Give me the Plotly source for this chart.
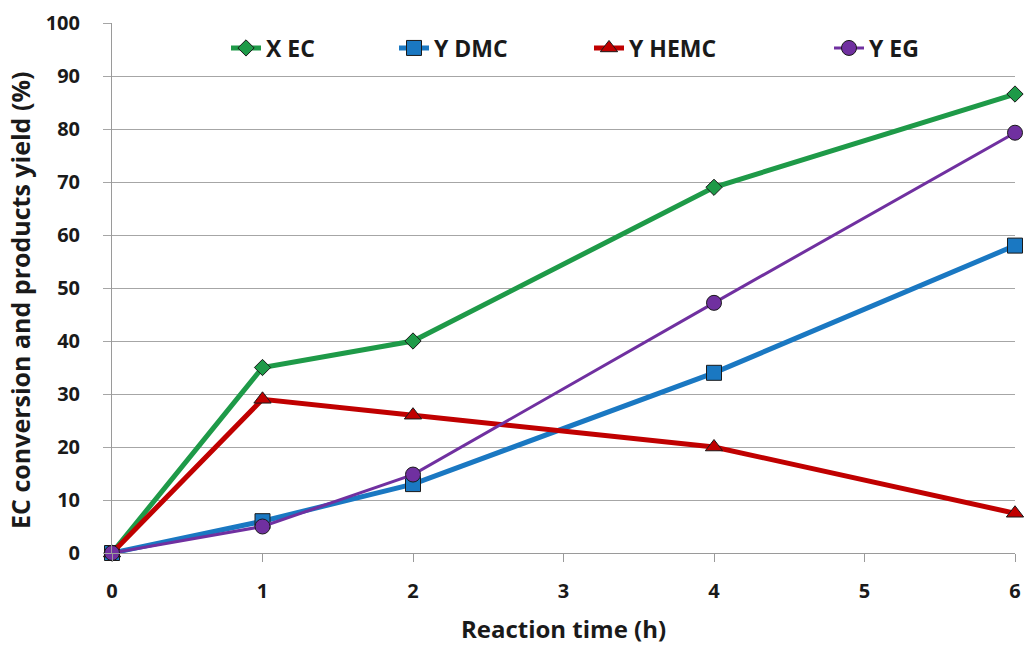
import plotly.graph_objects as go

time_h = [0, 1, 2, 4, 6]
x_ec = [0, 35, 40, 69, 86.6]
y_dmc = [0, 6, 13, 34, 58]
y_hemc = [0, 29, 26, 20, 7.5]
y_eg = [0, 5, 14.8, 47.2, 79.3]

names = ["X EC", "Y DMC", "Y HEMC", "Y EG"]
series = [x_ec, y_dmc, y_hemc, y_eg]
colors = ["#1e9a48", "#1a78c2", "#c00000", "#7030a0"]
widths = [5, 5, 5, 3]
symbols = ["diamond", "square", "triangle-up", "circle"]
sizes = [12.5, 15, 15, 15]
legend_x_px = [226, 394, 589, 829]

x_title = "Reaction time (h)"
y_title = "EC conversion and products yield (%)"

W, H = 1024, 645
L, R, T, B = 112, 9, 23, 92
pw = W - L - R
ph = H - T - B

FONT = "Open Sans"
TXT = "#1a1a1a"

fig = go.Figure()
for i, (n, s) in enumerate(zip(names, series)):
    fig.add_trace(go.Scatter(
        x=time_h, y=s, name=n, mode="lines+markers",
        line=dict(color=colors[i], width=widths[i]),
        marker=dict(symbol=symbols[i], size=sizes[i], color=colors[i],
                    line=dict(color="#1a1a1a", width=1)),
        cliponaxis=False,
        legend="legend" if i == 0 else f"legend{i+1}",
    ))

leg_common = dict(orientation="h", yanchor="middle", y=(H - B - 48) / ph,
                  xanchor="left", bgcolor="rgba(0,0,0,0)",
                  font=dict(family=FONT, size=23, color=TXT, weight="bold"),
                  itemwidth=30)
legends = {}
for i, px in enumerate(legend_x_px):
    key = "legend" if i == 0 else f"legend{i+1}"
    legends[key] = dict(leg_common, x=(px - L) / pw)

fig.add_annotation(
    text=y_title, textangle=-90, showarrow=False,
    xref="paper", yref="paper", x=(20 - L) / pw, y=(H - B - 301) / ph,
    xanchor="center", yanchor="middle",
    font=dict(family=FONT, size=25, color=TXT, weight="bold"),
)

fig.update_layout(
    width=W, height=H,
    margin=dict(l=L, r=R, t=T, b=B, autoexpand=False),
    plot_bgcolor="white", paper_bgcolor="white",
    showlegend=True,
    **legends,
    xaxis=dict(
        range=[0, 6], tickmode="array", tickvals=[0, 1, 2, 3, 4, 5, 6],
        showgrid=False, zeroline=False, automargin=False,
        showline=True, linecolor="#9a9a9a", linewidth=1,
        ticks="outside", ticklen=8, tickcolor="#9a9a9a",
        ticklabelstandoff=12,
        tickfont=dict(family=FONT, size=20, color=TXT, weight="bold"),
        title=dict(text=x_title, standoff=19,
                   font=dict(family=FONT, size=24, color=TXT, weight="bold")),
    ),
    yaxis=dict(
        range=[0, 100], tickmode="array", tickvals=list(range(0, 101, 10)),
        showgrid=True, gridcolor="#a6a6a6", gridwidth=1, zeroline=False,
        automargin=False,
        showline=True, linecolor="#9a9a9a", linewidth=1,
        ticks="outside", ticklen=8, tickcolor="#a6a6a6",
        ticklabelstandoff=19,
        tickfont=dict(family=FONT, size=20, color=TXT, weight="bold"),
    ),
)

fig.write_html(
    "out.html",
    config={"displayModeBar": False},
    post_script="document.body.style.margin='0';document.body.style.overflow='hidden';",
)
